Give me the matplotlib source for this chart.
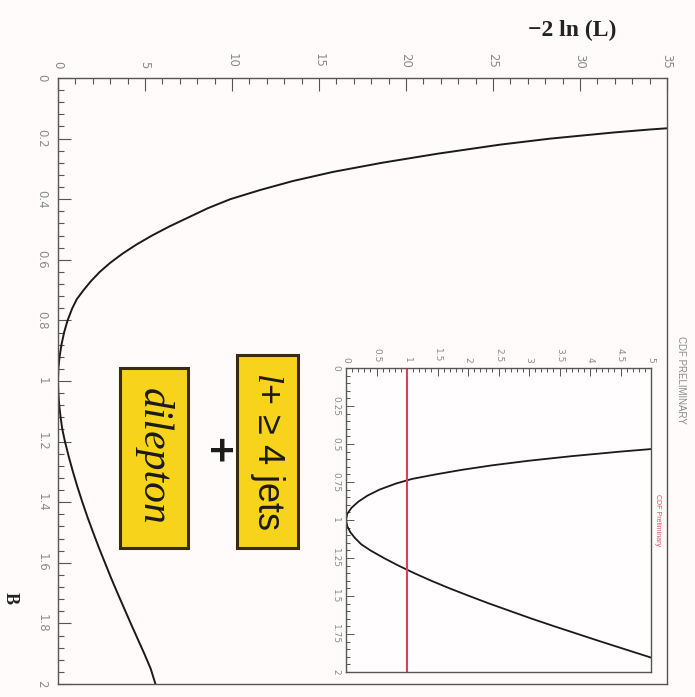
import matplotlib
matplotlib.use("Agg")
import matplotlib.pyplot as plt
from matplotlib.ticker import MultipleLocator, FixedLocator
from matplotlib.patches import Rectangle

# Likelihood scan: -2 ln(L) versus B
b_vals = [0.16, 0.17, 0.18, 0.20, 0.22, 0.25, 0.28, 0.31, 0.34, 0.37, 0.40,
          0.43, 0.46, 0.49, 0.52, 0.55, 0.58, 0.61, 0.64, 0.67, 0.70, 0.73,
          0.76, 0.80, 0.84, 0.88, 0.92, 0.96, 1.00, 1.04, 1.08, 1.12, 1.16,
          1.20, 1.25, 1.30, 1.35, 1.40, 1.45, 1.50, 1.55, 1.60, 1.65, 1.70,
          1.75, 1.80, 1.85, 1.90, 1.95, 2.00]
nll_vals = [36.5, 34.0, 31.9, 28.3, 25.4, 21.8, 18.6, 15.8, 13.5, 11.6, 9.9,
            8.6, 7.5, 6.4, 5.4, 4.5, 3.7, 3.0, 2.4, 1.9, 1.47, 1.08,
            0.82, 0.55, 0.35, 0.2, 0.09, 0.02, 0.0, 0.02, 0.07, 0.15, 0.25,
            0.4, 0.62, 0.86, 1.12, 1.4, 1.7, 2.02, 2.35, 2.7, 3.05, 3.42,
            3.8, 4.18, 4.57, 4.96, 5.33, 5.6]

main_nll_ticks = [0, 5, 10, 15, 20, 25, 30, 35]
main_b_ticks = [0, 0.2, 0.4, 0.6, 0.8, 1.0, 1.2, 1.4, 1.6, 1.8, 2.0]
inset_nll_ticks = [0, 0.5, 1, 1.5, 2, 2.5, 3, 3.5, 4, 4.5, 5]
inset_b_ticks = [0, 0.25, 0.5, 0.75, 1, 1.25, 1.5, 1.75, 2]
one_sigma_level = 1.0

bg = "#fffbfb"
label_grey = "#8a8a8a"
frame_col = "#555555"
box_face = "#f7d31c"
box_edge = "#3b2a12"

def fmt(v):
    return "%g" % v

plt.rcParams["mathtext.fontset"] = "custom"
plt.rcParams["mathtext.it"] = "Liberation Serif:italic"
plt.rcParams["mathtext.rm"] = "Liberation Sans"

fig = plt.figure(figsize=(6.95, 6.97), dpi=100, facecolor=bg)

W, H = 695.0, 697.0
def rect(x0, y0, x1, y1):
    return [x0 / W, 1 - y1 / H, (x1 - x0) / W, (y1 - y0) / H]

# Main panel (rotated layout: -2lnL runs left->right, B runs top->bottom)
ax = fig.add_axes(rect(58, 78, 667, 684), facecolor=bg)
ax.plot(nll_vals, b_vals, color="#1a1a1a", lw=1.4)
ax.set_xlim(0, 35)
ax.set_ylim(2, 0)
ax.xaxis.tick_top()
ax.xaxis.set_major_locator(FixedLocator(main_nll_ticks))
ax.xaxis.set_minor_locator(MultipleLocator(1))
ax.yaxis.set_major_locator(FixedLocator(main_b_ticks))
ax.yaxis.set_minor_locator(MultipleLocator(0.04))
ax.set_xticklabels([fmt(v) for v in main_nll_ticks], rotation=-90,
                   color=label_grey, fontsize=8.5)
ax.set_yticklabels([fmt(v) for v in main_b_ticks], rotation=-90,
                   color=label_grey, fontsize=8.5, va="center")
ax.tick_params(which="both", direction="in", color=frame_col, width=0.8)
ax.tick_params(which="major", length=9)
ax.tick_params(which="minor", length=4.5)
ax.tick_params(axis="x", pad=7)
ax.tick_params(axis="y", pad=7)
for sp in ax.spines.values():
    sp.set_color(frame_col)
    sp.set_linewidth(1.0)

fig.text(572 / W, 1 - 30 / H, "\u22122 ln (L)", family="Liberation Serif",
         weight="bold", fontsize=17, ha="center", va="center", color="#222222")
fig.text(10 / W, 1 - 598 / H, "B", family="Liberation Serif", weight="bold",
         fontsize=13, rotation=-90, ha="center", va="center", color="#222222")
fig.text(681 / W, 1 - 380 / H, "CDF PRELIMINARY", family="Liberation Sans",
         fontsize=7, rotation=-90, ha="center", va="center", color="#8a8a8a")

# Zoomed inset around the minimum
axi = fig.add_axes(rect(346, 368, 651, 672), facecolor="#fffdfd")
axi.plot(nll_vals, b_vals, color="#1a1a1a", lw=1.3)
axi.axvline(one_sigma_level, color="#d9434f", lw=1.5)
axi.set_xlim(0, 5)
axi.set_ylim(2, 0)
axi.xaxis.tick_top()
axi.xaxis.set_major_locator(FixedLocator(inset_nll_ticks))
axi.xaxis.set_minor_locator(MultipleLocator(0.1))
axi.yaxis.set_major_locator(FixedLocator(inset_b_ticks))
axi.yaxis.set_minor_locator(MultipleLocator(0.05))
axi.set_xticklabels([fmt(v) for v in inset_nll_ticks], rotation=-90,
                    color=label_grey, fontsize=6.5)
axi.set_yticklabels([fmt(v) for v in inset_b_ticks], rotation=-90,
                    color=label_grey, fontsize=6.5, va="center")
axi.tick_params(which="both", direction="in", color=frame_col, width=0.7)
axi.tick_params(which="major", length=6)
axi.tick_params(which="minor", length=3)
axi.tick_params(axis="x", pad=4)
axi.tick_params(axis="y", pad=4)
for sp in axi.spines.values():
    sp.set_color(frame_col)
    sp.set_linewidth(1.0)

fig.text(658 / W, 1 - 520 / H, "CDF Preliminary", family="Liberation Sans",
         fontsize=5, rotation=-90, ha="center", va="center", color="#e0505a")

# Channel labels in yellow boxes
def label_box(x0, y0, x1, y1):
    fig.add_artist(Rectangle((x0 / W, 1 - y1 / H), (x1 - x0) / W,
                             (y1 - y0) / H, transform=fig.transFigure,
                             facecolor=box_face, edgecolor=box_edge,
                             linewidth=2.2, zorder=5))

label_box(237, 355, 298, 548)
fig.text(268 / W, 1 - 451 / H, "$l$+ \u2265 4 jets",
         family="Liberation Sans", fontsize=26, rotation=-90,
         ha="center", va="center", color="#1a1a1a", zorder=6)

label_box(120, 368, 188, 548)
fig.text(153 / W, 1 - 456 / H, "dilepton", family="Liberation Serif",
         style="italic", fontsize=30, rotation=-90, ha="center", va="center",
         color="#1a1a1a", zorder=6)

fig.text(216 / W, 1 - 452 / H, "+", family="DejaVu Sans", weight="bold",
         fontsize=26, rotation=-90, ha="center", va="center", color="#1a1a1a",
         zorder=6)

fig.savefig("out.png", dpi=100, facecolor=bg)
